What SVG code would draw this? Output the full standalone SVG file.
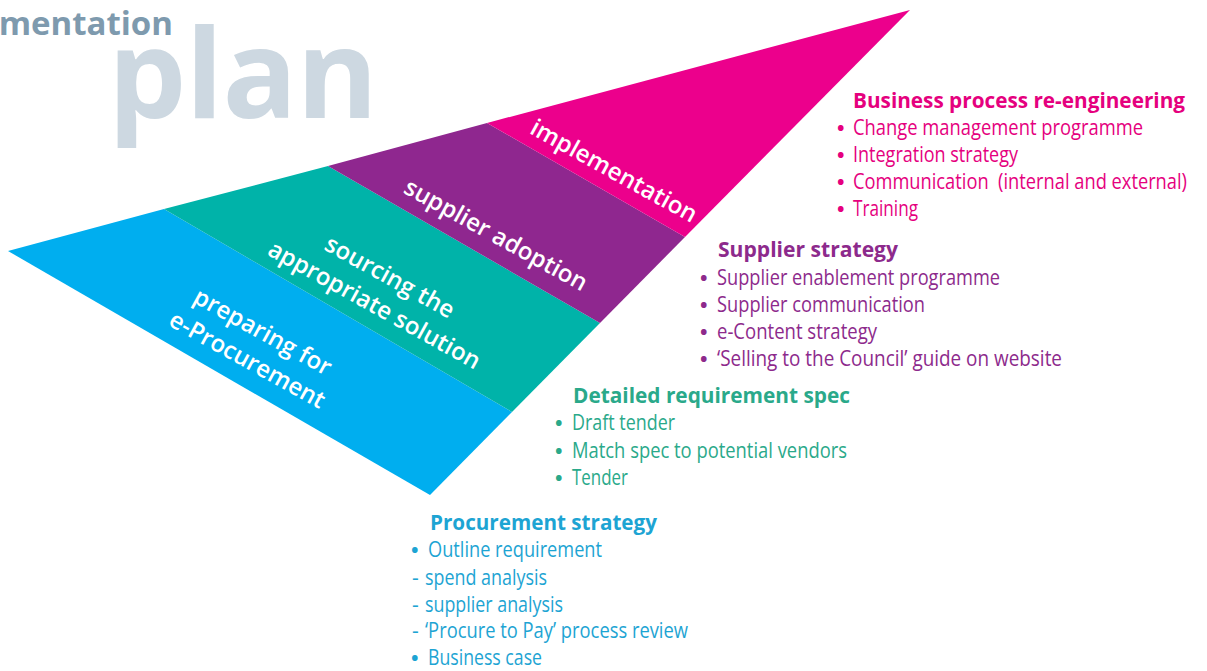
<svg xmlns="http://www.w3.org/2000/svg" width="1207" height="671" viewBox="0 0 1207 671">
<style>
.band-label{font-family:"Open Sans","Liberation Sans",sans-serif;font-weight:600;font-size:24px;fill:#ffffff;text-anchor:middle}
.hd{font-family:"Open Sans","Liberation Sans",sans-serif;font-weight:700;font-size:21px}
.it{font-family:"Open Sans","Liberation Sans",sans-serif;font-weight:400;font-size:21px}
.bl{font-weight:700;font-size:20px}
.pink{fill:#E5007E}
.purple{fill:#8D2A8C}
.teal{fill:#2AA98A}
.blue{fill:#1DA4D3}
</style>
<g id="title">
<text x="173" y="35" font-family="'Open Sans','Liberation Sans',sans-serif" font-weight="700" font-size="33" fill="#7E9AAE" text-anchor="end">mentation</text>
<text x="108" y="118" font-family="'Open Sans','Liberation Sans',sans-serif" font-weight="700" font-size="124" fill="#CDD8E1" textLength="270" lengthAdjust="spacing">plan</text>
</g>
<g id="band-preparing">
<polygon points="8,251 164,209 512,412 430,495" fill="#00AEEF"/>
<g transform="translate(259,339) rotate(29)"><text class="band-label"><tspan x="0" y="0">preparing for</tspan><tspan x="0" y="32">e-Procurement</tspan></text></g>
</g>
<g id="band-sourcing">
<polygon points="164,209 328,166 600,323 512,412" fill="#00B3A9"/>
<g transform="translate(386,284) rotate(29)"><text class="band-label"><tspan x="0" y="0">sourcing the</tspan><tspan x="0" y="32">appropriate solution</tspan></text></g>
</g>
<g id="band-supplier">
<polygon points="328,166 487,123 685,237 600,323" fill="#8F278F"/>
<g transform="translate(492,242) rotate(29)"><text class="band-label" x="0" y="0">supplier adoption</text></g>
</g>
<g id="band-implementation">
<polygon points="487,123 910,10 685,237" fill="#EC008C"/>
<g transform="translate(610,178) rotate(29)"><text class="band-label" x="0" y="0">implementation</text></g>
</g>
<g id="list-business">
<text class="hd pink" x="853" y="108" textLength="332" lengthAdjust="spacingAndGlyphs">Business process re-engineering</text>
<text class="it pink"><tspan class="bl" x="837" y="135">• </tspan><tspan x="853" y="135" textLength="290" lengthAdjust="spacingAndGlyphs">Change management programme</tspan></text>
<text class="it pink"><tspan class="bl" x="837" y="162">• </tspan><tspan x="853" y="162" textLength="165" lengthAdjust="spacingAndGlyphs">Integration strategy</tspan></text>
<text class="it pink"><tspan class="bl" x="837" y="189">• </tspan><tspan x="853" y="189" textLength="334" lengthAdjust="spacingAndGlyphs">Communication&#160; (internal and external)</tspan></text>
<text class="it pink"><tspan class="bl" x="837" y="216">• </tspan><tspan x="853" y="216" textLength="65" lengthAdjust="spacingAndGlyphs">Training</tspan></text>
</g>
<g id="list-supplier">
<text class="hd purple" x="718" y="257" textLength="180" lengthAdjust="spacingAndGlyphs">Supplier strategy</text>
<text class="it purple"><tspan class="bl" x="700" y="285">• </tspan><tspan x="717" y="285" textLength="283" lengthAdjust="spacingAndGlyphs">Supplier enablement programme</tspan></text>
<text class="it purple"><tspan class="bl" x="700" y="312">• </tspan><tspan x="717" y="312" textLength="208" lengthAdjust="spacingAndGlyphs">Supplier communication</tspan></text>
<text class="it purple"><tspan class="bl" x="700" y="339">• </tspan><tspan x="717" y="339" textLength="160" lengthAdjust="spacingAndGlyphs">e-Content strategy</tspan></text>
<text class="it purple"><tspan class="bl" x="700" y="366">• </tspan><tspan x="717" y="366" textLength="345" lengthAdjust="spacingAndGlyphs">‘Selling to the Council’ guide on website</tspan></text>
</g>
<g id="list-detailed">
<text class="hd teal" x="573" y="403" textLength="277" lengthAdjust="spacingAndGlyphs">Detailed requirement spec</text>
<text class="it teal"><tspan class="bl" x="555" y="430">• </tspan><tspan x="572" y="430" textLength="103" lengthAdjust="spacingAndGlyphs">Draft tender</tspan></text>
<text class="it teal"><tspan class="bl" x="555" y="458">• </tspan><tspan x="572" y="458" textLength="275" lengthAdjust="spacingAndGlyphs">Match spec to potential vendors</tspan></text>
<text class="it teal"><tspan class="bl" x="555" y="485">• </tspan><tspan x="572" y="485" textLength="56" lengthAdjust="spacingAndGlyphs">Tender</tspan></text>
</g>
<g id="list-procurement">
<text class="hd blue" x="430" y="530" textLength="227" lengthAdjust="spacingAndGlyphs">Procurement strategy</text>
<text class="it blue"><tspan class="bl" x="411" y="557">• </tspan><tspan x="428" y="557" textLength="174" lengthAdjust="spacingAndGlyphs">Outline requirement</tspan></text>
<text class="it blue"><tspan x="412" y="585">- </tspan><tspan x="425" y="585" textLength="122" lengthAdjust="spacingAndGlyphs">spend analysis</tspan></text>
<text class="it blue"><tspan x="412" y="612">- </tspan><tspan x="425" y="612" textLength="138" lengthAdjust="spacingAndGlyphs">supplier analysis</tspan></text>
<text class="it blue"><tspan x="412" y="638">- </tspan><tspan x="425" y="638" textLength="263" lengthAdjust="spacingAndGlyphs">‘Procure to Pay’ process review</tspan></text>
<text class="it blue"><tspan class="bl" x="411" y="665">• </tspan><tspan x="428" y="665" textLength="114" lengthAdjust="spacingAndGlyphs">Business case</tspan></text>
</g>
</svg>
